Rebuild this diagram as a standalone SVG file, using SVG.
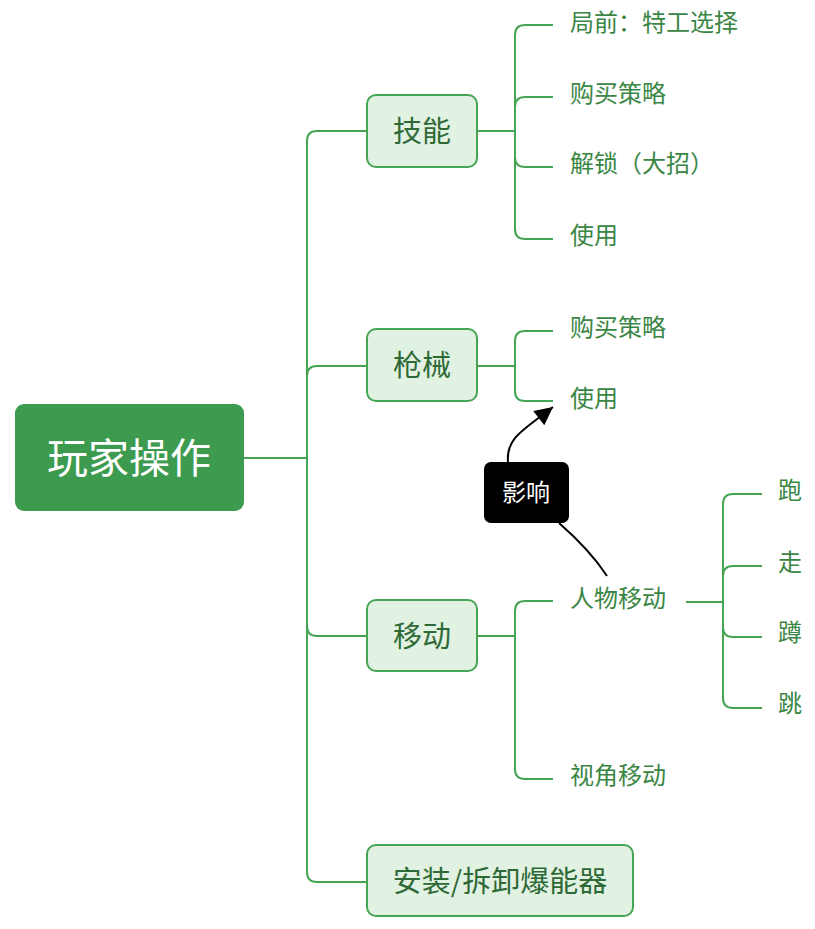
<svg xmlns="http://www.w3.org/2000/svg" width="815" height="929" viewBox="0 0 815 929">
<defs>
<style>
text{font-family:"Noto Sans CJK SC","Noto Sans",sans-serif;dominant-baseline:central}
.conn{fill:none;stroke:#46a553;stroke-width:2}
.node{fill:#e1f1e2;stroke:#46a553;stroke-width:2}
.ntext{font-size:29px;fill:#2e6a36;text-anchor:middle}
.ctext{font-size:24px;fill:#3a8645}
.link{fill:none;stroke:#000;stroke-width:2}
</style>
<marker id="ah" viewBox="0 0 20 20" refX="20" refY="10" markerWidth="20" markerHeight="18" markerUnits="userSpaceOnUse" orient="auto">
<path d="M0,0 L20,10 L0,20 z" fill="#000"/>
</marker>
</defs>
<rect width="815" height="929" fill="#fff"/>
<g id="connectors">
<path class="conn" d="M244,458 H307"/>
<path class="conn" d="M367,131 H317 Q307,131 307,141 V872 Q307,882 317,882 H367"/>
<path class="conn" d="M307,376 Q307,366 317,366 H367"/>
<path class="conn" d="M307,626 Q307,636 317,636 H367"/>
<path class="conn" d="M477,131 H515"/>
<path class="conn" d="M553,25 H525 Q515,25 515,35 V229 Q515,239 525,239 H553"/>
<path class="conn" d="M515,107 Q515,97 525,97 H553"/>
<path class="conn" d="M515,157 Q515,167 525,167 H553"/>
<path class="conn" d="M477,366 H515"/>
<path class="conn" d="M553,331 H525 Q515,331 515,341 V391 Q515,401 525,401 H553"/>
<path class="conn" d="M477,636 H515"/>
<path class="conn" d="M553,601 H525 Q515,601 515,611 V769 Q515,779 525,779 H553"/>
<path class="conn" d="M686,602 H723"/>
<path class="conn" d="M762,494 H733 Q723,494 723,504 V698 Q723,708 733,708 H762"/>
<path class="conn" d="M723,576 Q723,566 733,566 H762"/>
<path class="conn" d="M723,627 Q723,637 733,637 H762"/>
<path class="link" d="M508,462 C506,438 522,431 553,407" marker-end="url(#ah)"/>
<path class="link" d="M559,523 Q590,550 607,576"/>
</g>
<g id="root">
<rect x="15" y="404" width="229" height="107" rx="9" fill="#3d9b4f"/>
<text x="129" y="455" font-size="41" fill="#fff" text-anchor="middle">玩家操作</text>
</g>
<g id="n-jineng">
<rect class="node" x="367" y="95" width="110" height="72" rx="9"/>
<text class="ntext" x="422" y="129">技能</text>
</g>
<g id="n-qiangxie">
<rect class="node" x="367" y="329" width="110" height="72" rx="9"/>
<text class="ntext" x="422" y="363">枪械</text>
</g>
<g id="n-yidong">
<rect class="node" x="367" y="600" width="110" height="71" rx="9"/>
<text class="ntext" x="422" y="634">移动</text>
</g>
<g id="n-anzhuang">
<rect class="node" x="367" y="845" width="266" height="71" rx="9"/>
<text class="ntext" x="500" y="879">安装/拆卸爆能器</text>
</g>
<g id="c-juqian"><text class="ctext" x="570" y="20">局前：特工选择</text></g>
<g id="c-goumai1"><text class="ctext" x="570" y="91">购买策略</text></g>
<g id="c-jiesuo"><text class="ctext" x="570" y="161">解锁（大招）</text></g>
<g id="c-shiyong1"><text class="ctext" x="570" y="233">使用</text></g>
<g id="c-goumai2"><text class="ctext" x="570" y="325">购买策略</text></g>
<g id="c-shiyong2"><text class="ctext" x="570" y="396">使用</text></g>
<g id="c-renwu"><text class="ctext" x="570" y="596">人物移动</text></g>
<g id="c-shijiao"><text class="ctext" x="570" y="773">视角移动</text></g>
<g id="c-pao"><text class="ctext" x="778" y="488">跑</text></g>
<g id="c-zou"><text class="ctext" x="778" y="560">走</text></g>
<g id="c-dun"><text class="ctext" x="778" y="630">蹲</text></g>
<g id="c-tiao"><text class="ctext" x="778" y="701">跳</text></g>
<g id="yingxiang">
<rect x="484" y="462" width="85" height="61" rx="7" fill="#000"/>
<text x="526" y="490" font-size="24" fill="#fff" text-anchor="middle">影响</text>
</g>
</svg>
